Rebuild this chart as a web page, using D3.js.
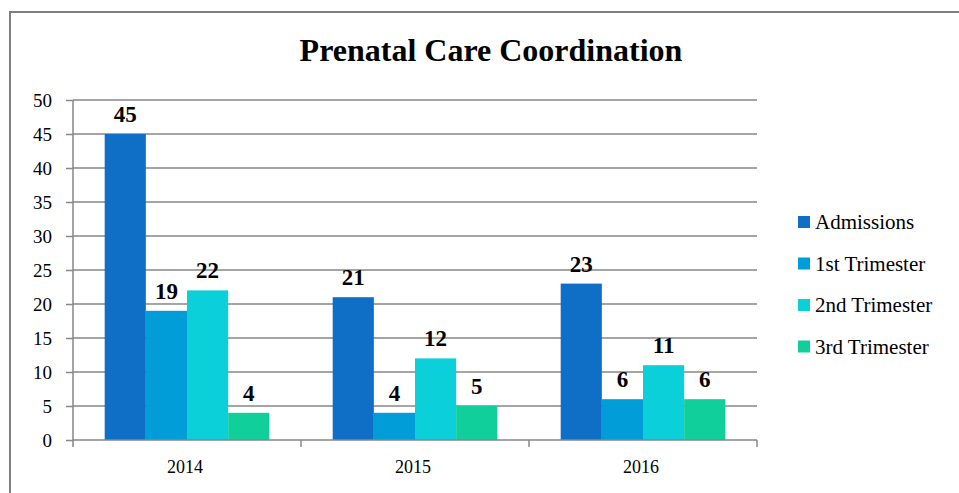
<!DOCTYPE html>
<html><head><meta charset="utf-8">
<script src="https://cdn.jsdelivr.net/npm/d3@7"></script>
<style>body{margin:0;background:#fff}svg{display:block}</style>
</head><body><svg id="c" width="959" height="493"></svg>
<script>
const categories = ["2014", "2015", "2016"];
const seriesNames = ["Admissions", "1st Trimester", "2nd Trimester", "3rd Trimester"];
const admissions = [45, 21, 23];
const firstTrimester = [19, 4, 6];
const secondTrimester = [22, 12, 11];
const thirdTrimester = [4, 5, 6];
const yTicks = [0, 5, 10, 15, 20, 25, 30, 35, 40, 45, 50];
const colors = ["#0F6FC6", "#009DD9", "#0BD0D9", "#10CF9B"];
const title = "Prenatal Care Coordination";

const series = [admissions, firstTrimester, secondTrimester, thirdTrimester];
const font = "'Liberation Serif', 'DejaVu Serif', serif";
const svg = d3.select("#c");

// outer frame
svg.append("rect").attr("x", 10).attr("y", 12).attr("width", 1200).attr("height", 1000)
  .attr("fill", "none").attr("stroke", "#7f7f7f").attr("stroke-width", 2);

const pL = 73, pR = 757, pT = 100, pB = 440;
const x0 = d3.scaleBand().domain(categories).range([pL, pR]).paddingInner(0).paddingOuter(0);
const x1 = d3.scaleBand().domain(seriesNames).range([0, x0.bandwidth()]).paddingInner(0).paddingOuter(0.77);
const y = d3.scaleLinear().domain([0, 50]).range([pB, pT]);

// gridlines
svg.append("g").selectAll("line").data(yTicks.filter(d => d > 0)).join("line")
  .attr("x1", pL).attr("x2", pR).attr("y1", d => y(d)).attr("y2", d => y(d))
  .attr("stroke", "#878787").attr("stroke-width", 1.5);

// bars
const groups = svg.append("g").selectAll("g").data(categories).join("g")
  .attr("transform", d => `translate(${x0(d)},0)`);
groups.each(function(cat, ci) {
  const g = d3.select(this);
  seriesNames.forEach((s, si) => {
    const v = series[si][ci];
    g.append("rect").attr("x", x1(s)).attr("y", y(v)).attr("width", x1.bandwidth())
      .attr("height", y(0) - y(v)).attr("fill", colors[si]);
    g.append("text").attr("x", x1(s) + x1.bandwidth() / 2).attr("y", y(v) - 12)
      .attr("text-anchor", "middle").attr("font-family", font).attr("font-weight", "bold")
      .attr("font-size", 23).attr("fill", "#000").text(v);
  });
});

// y axis
const yAxis = d3.axisLeft(y).tickValues(yTicks).tickSize(7).tickPadding(14);
const ya = svg.append("g").attr("transform", `translate(${pL},0)`).call(yAxis);
ya.select(".domain").attr("stroke", "#878787").attr("stroke-width", 1.5).attr("d", `M0,${pT}V${pB}`);
ya.selectAll(".tick line").attr("stroke", "#878787").attr("stroke-width", 1.5);
ya.selectAll(".tick text").attr("font-family", font).attr("font-size", 19).attr("fill", "#000");

// x axis
const xa = svg.append("g").attr("transform", `translate(0,${pB})`);
xa.append("line").attr("x1", pL).attr("x2", pR).attr("y1", 0).attr("y2", 0)
  .attr("stroke", "#878787").attr("stroke-width", 1.5);
const bounds = categories.map(c => x0(c)).concat([x0(categories[categories.length - 1]) + x0.bandwidth()]);
xa.selectAll("line.t").data(bounds).join("line").attr("class", "t")
  .attr("x1", d => d).attr("x2", d => d).attr("y1", 0).attr("y2", 7)
  .attr("stroke", "#878787").attr("stroke-width", 1.5);
xa.selectAll("text").data(categories).join("text")
  .attr("x", d => x0(d) + x0.bandwidth() / 2 - 2).attr("y", 33)
  .attr("text-anchor", "middle").attr("font-family", font).attr("font-size", 18).attr("fill", "#000")
  .text(d => d);

// title
svg.append("text").attr("x", 491).attr("y", 61).attr("text-anchor", "middle")
  .attr("font-family", font).attr("font-weight", "bold").attr("font-size", 32).attr("fill", "#000")
  .text(title);

// legend
const lg = svg.append("g");
seriesNames.forEach((s, i) => {
  const cy = 222 + i * 41.5;
  lg.append("rect").attr("x", 798).attr("y", cy - 6).attr("width", 12).attr("height", 12).attr("fill", colors[i]);
  lg.append("text").attr("x", 815).attr("y", cy + 7).attr("font-family", font).attr("font-size", 21)
    .attr("fill", "#000").text(s);
});
</script></body></html>
